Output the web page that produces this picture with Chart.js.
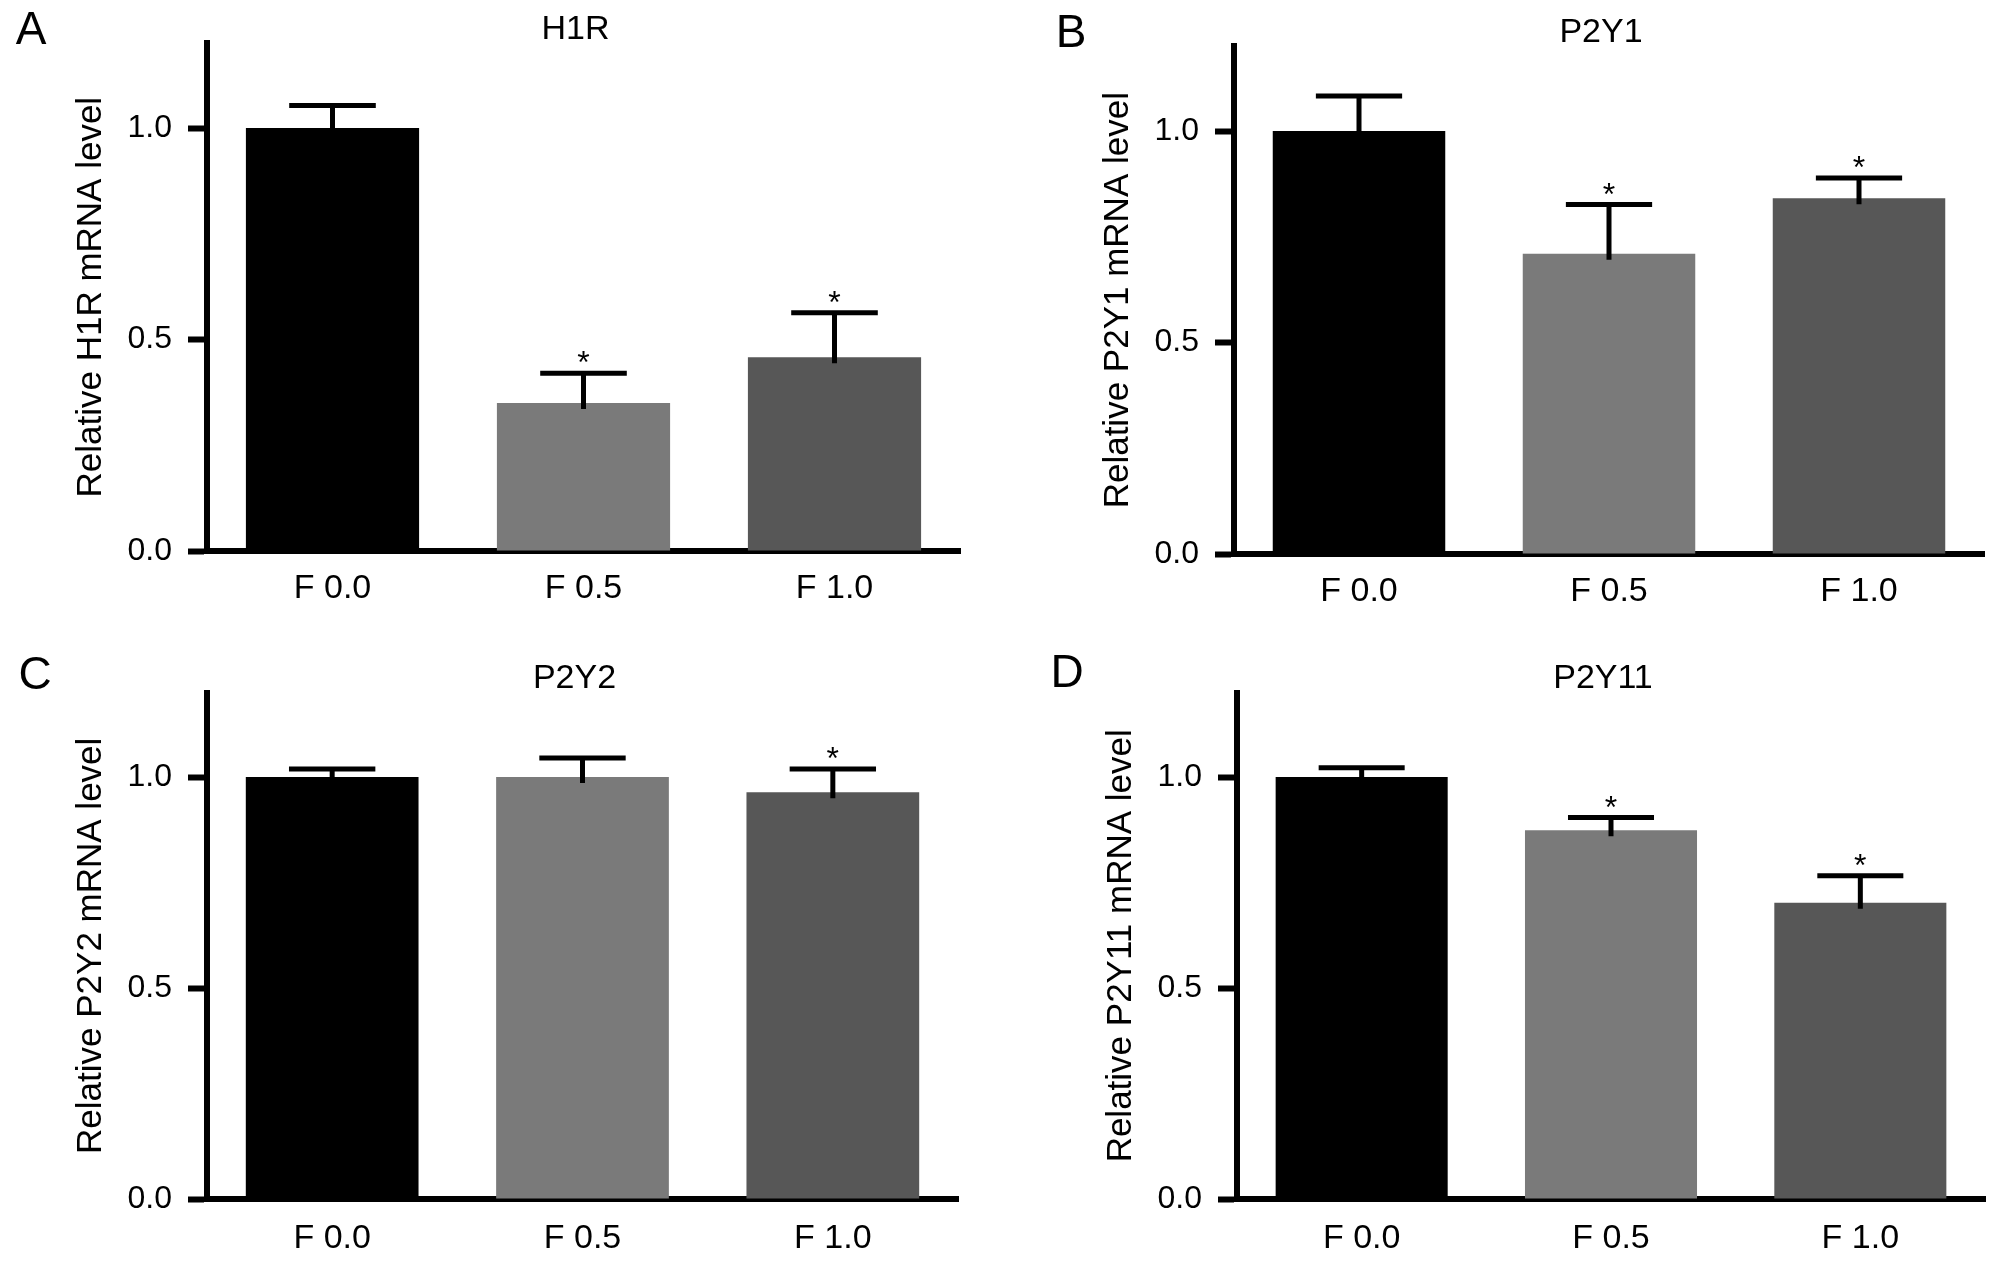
<!DOCTYPE html>
<html>
<head>
<meta charset="utf-8">
<script src="https://cdn.jsdelivr.net/npm/chart.js@4.4.1/dist/chart.umd.min.js"></script>
<style>
  html, body { margin: 0; padding: 0; background: #fff; }
  #wrap { position: relative; width: 2008px; height: 1265px; background: #fff; }
  #wrap canvas { position: absolute; }
</style>
</head>
<body>
<div id="wrap">
  <canvas id="panelA" width="1004" height="632" style="left:0;top:0"></canvas>
  <canvas id="panelB" width="1004" height="632" style="left:1004px;top:0"></canvas>
  <canvas id="panelC" width="1004" height="633" style="left:0;top:632px"></canvas>
  <canvas id="panelD" width="1004" height="633" style="left:1004px;top:632px"></canvas>
</div>
<script>
// groups and colours shared by every panel
const groups = ["F 0.0", "F 0.5", "F 1.0"];
const barColors = ["#000000", "#7a7a7a", "#575757"];

// H1R
const h1rMean = [1.00, 0.350, 0.458];
const h1rSem = [0.053, 0.070, 0.105];
const h1rSig = [false, true, true];

// P2Y1
const p2y1Mean = [1.00, 0.710, 0.841];
const p2y1Sem = [0.083, 0.116, 0.048];
const p2y1Sig = [false, true, true];

// P2Y2
const p2y2Mean = [1.00, 1.00, 0.964];
const p2y2Sem = [0.019, 0.045, 0.055];
const p2y2Sig = [false, false, true];

// P2Y11
const p2y11Mean = [1.00, 0.874, 0.702];
const p2y11Sem = [0.022, 0.030, 0.064];
const p2y11Sig = [false, true, true];

const fontFam = "'Liberation Sans', Arial, Helvetica, sans-serif";

function makePanel(id, letter, gene, mean, sem, sig, box) {
    const canvas = document.getElementById(id);
    const W = canvas.width, H = canvas.height;

    // error bars, asterisks, title and panel letter
    const extras = {
        id: "extras",
        afterDatasetsDraw(chart) {
            const c = chart.ctx;
            const y = chart.scales.y;
            const meta = chart.getDatasetMeta(0);
            c.save();
            c.strokeStyle = "#000";
            c.fillStyle = "#000";
            c.lineWidth = 5;
            meta.data.forEach((bar, i) => {
                const top = y.getPixelForValue(mean[i] + sem[i]);
                const half = bar.width / 4;
                c.beginPath();
                c.moveTo(bar.x, bar.y + 6);
                c.lineTo(bar.x, top);
                c.moveTo(bar.x - half, top);
                c.lineTo(bar.x + half, top);
                c.stroke();
                if (sig[i]) {
                    c.font = "32px " + fontFam;
                    c.textAlign = "center";
                    c.textBaseline = "alphabetic";
                    c.fillText("*", bar.x, top);
                }
            });
            c.restore();
        },
        afterDraw(chart) {
            const c = chart.ctx;
            const area = chart.chartArea;
            c.save();
            c.fillStyle = "#000";
            c.textAlign = "center";
            c.textBaseline = "middle";
            c.font = "34px " + fontFam;
            c.fillText(gene, (area.left + area.right) / 2 - 8, area.top - 14);
            c.font = "46px " + fontFam;
            c.fillText(letter, box.letter[0], box.letter[1]);
            c.restore();
        }
    };

    new Chart(canvas, {
        type: "bar",
        data: {
            labels: groups,
            datasets: [{
                data: mean,
                backgroundColor: barColors,
                borderWidth: 0,
                barPercentage: 0.69,
                categoryPercentage: 1
            }]
        },
        options: {
            responsive: false,
            animation: false,
            devicePixelRatio: 1,
            layout: {
                padding: { left: 0, right: W - box.right, top: box.zero - 1.2 * box.unit, bottom: 0 }
            },
            plugins: {
                legend: { display: false },
                tooltip: { enabled: false }
            },
            scales: {
                x: {
                    z: 1,
                    grid: { display: false, drawTicks: false },
                    border: { display: true, color: "#000", width: 6 },
                    ticks: { color: "#000", font: { family: fontFam, size: 34 }, padding: box.labelGap },
                    afterFit: s => { s.height = H - box.zero; }
                },
                y: {
                    z: 1,
                    min: 0,
                    max: 1.2,
                    grid: { drawOnChartArea: false, drawTicks: true, tickLength: 19, tickWidth: 6, tickColor: "#000" },
                    border: { display: true, color: "#000", width: 6 },
                    ticks: {
                        stepSize: 0.5,
                        includeBounds: false,
                        color: "#000",
                        font: { family: fontFam, size: 32 },
                        padding: 16,
                        callback: v => v.toFixed(1)
                    },
                    title: {
                        display: true,
                        text: "Relative " + gene + " mRNA level",
                        color: "#000",
                        font: { family: fontFam, size: 35 },
                        padding: { top: box.left - 116 - 21, bottom: 0 }
                    },
                    afterFit: s => { s.width = box.left; }
                }
            }
        },
        plugins: [extras]
    });
}

makePanel("panelA", "A", "H1R", h1rMean, h1rSem, h1rSig,
    { left: 207, right: 960, zero: 551, unit: 423, labelGap: 17, letter: [31, 31] });
makePanel("panelB", "B", "P2Y1", p2y1Mean, p2y1Sem, p2y1Sig,
    { left: 230, right: 980, zero: 554, unit: 423, labelGap: 17, letter: [67, 34] });
makePanel("panelC", "C", "P2Y2", p2y2Mean, p2y2Sem, p2y2Sig,
    { left: 207, right: 958, zero: 567, unit: 422, labelGap: 19, letter: [35, 44] });
makePanel("panelD", "D", "P2Y11", p2y11Mean, p2y11Sem, p2y11Sig,
    { left: 233, right: 981, zero: 567, unit: 422, labelGap: 19, letter: [63, 42] });
</script>
</body>
</html>
